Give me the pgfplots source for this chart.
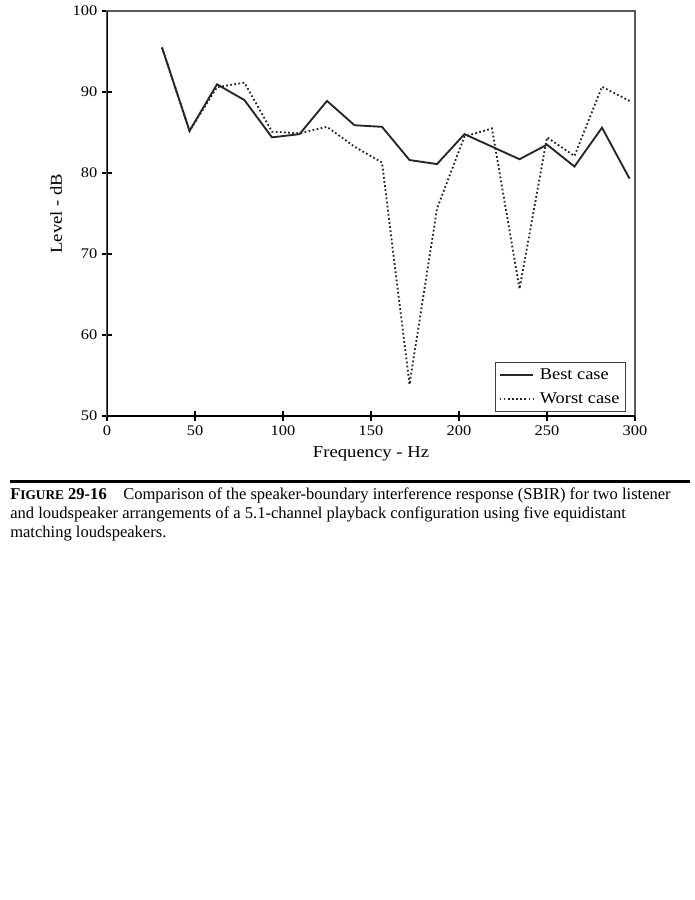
\documentclass[border=0pt]{standalone}
\usepackage{fontspec}
\setmainfont{Liberation Serif}
\newfontfamily\chartfont{Liberation Serif}[FakeStretch=1.12]
\usepackage{pgfplots}
\pgfplotsset{compat=1.18}

\pgfplotstableread{
f     best  worst
31.25 95.5  95.5
46.9  85.2  85.2
62.5  90.95 90.6
78.1  89.0  91.15
93.75 84.4  85.1
109.4 84.8  84.9
125.0 88.9  85.7
140.6 85.9  83.25
156.25 85.7 81.3
171.9 81.6  53.9
187.5 81.1  75.6
203.1 84.8  84.5
218.75 83.25 85.5
234.4 81.7  65.7
250.0 83.5  84.4
265.6 80.8  82.1
281.25 85.6 90.65
296.9 79.3  88.9
}\sbir

\begin{document}
\begin{tikzpicture}
\useasboundingbox (0,0) rectangle (521.25pt,-675pt);
\begin{axis}[
    at={(80.25pt,-312pt)}, anchor=south west,
    scale only axis, width=396pt, height=303.75pt,
    xmin=0, xmax=300, ymin=50, ymax=100,
    xtick={0,50,...,300}, ytick={50,60,...,100},
    tick pos=left, tick align=center, major tick length=7.5pt,
    tick style={black, line width=0.9pt},
    axis line style={black!65, line width=0.9pt},
    font=\chartfont\fontsize{11}{13}\selectfont,
    /pgf/number format/assume math mode=true,
    xlabel={Frequency - Hz}, ylabel={Level - dB},
    label style={font=\chartfont\fontsize{12.5}{14}\selectfont},
    xlabel style={yshift=-1pt}, ylabel style={yshift=1pt},
    legend style={at={(rel axis cs:0.983,0.01)}, anchor=south east,
      draw=black!75, line width=0.8pt, font=\chartfont\fontsize{12.3}{14}\selectfont,
      row sep=4.5pt, column sep=2.5pt, inner xsep=2.5pt, inner ysep=2.5pt},
    legend cell align=left,
    legend image code/.code={\draw[#1] (0pt,0pt) -- (25pt,0pt);},
  ]
  \addplot[black!85, line width=1.4pt] table[x=f, y=best] {\sbir};
  \addlegendentry{Best case}
  \addplot[black!85, line width=1.4pt, dash pattern=on 1.3pt off 1.8pt] table[x=f, y=worst] {\sbir};
  \addlegendentry{Worst case}
  \draw[black, line width=1.2pt] (rel axis cs:0,1) -- (rel axis cs:0,0) -- (rel axis cs:1,0);
\end{axis}
\draw[black, line width=2.25pt] (7.5pt,-360.75pt) -- (517.5pt,-360.75pt);
\node[anchor=north west, inner sep=0pt, align=left,
      font=\fontsize{12.4}{14.25}\selectfont] at (7.5pt,-365.5pt)
  {\textbf{F{\fontsize{10}{10}\selectfont IGURE} 29-16}\quad Comparison of the speaker-boundary interference response (SBIR) for two listener\\
   and loudspeaker arrangements of a 5.1-channel playback configuration using five equidistant\\
   matching loudspeakers.};
\end{tikzpicture}
\end{document}
